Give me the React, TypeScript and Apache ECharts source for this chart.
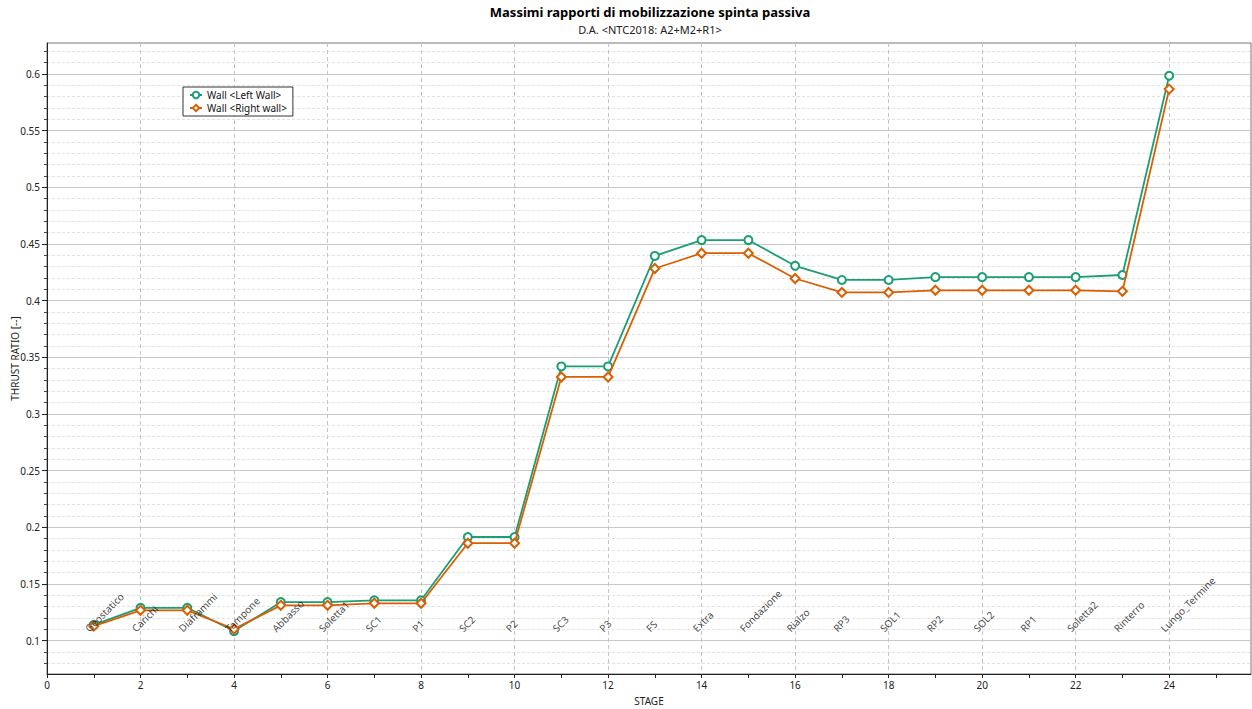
import React, { useEffect, useRef } from "react";
import * as echarts from "echarts";

const STAGES = [1, 2, 3, 4, 5, 6, 7, 8, 9, 10, 11, 12, 13, 14, 15, 16, 17, 18, 19, 20, 21, 22, 23, 24];
const STAGE_NAMES = [
  "Geostatico", "Carichi", "Diaframmi", "Tampone", "Abbasso", "Soletta1", "SC1", "P1",
  "SC2", "P2", "SC3", "P3", "FS", "Extra", "Fondazione", "Rialzo", "RP3", "SOL1",
  "RP2", "SOL2", "RP1", "Soletta2", "Rinterro", "Lungo_Termine",
];
const LEFT_WALL = [
  0.114, 0.129, 0.129, 0.1085, 0.134, 0.134, 0.1356, 0.1356, 0.1915, 0.1915, 0.342, 0.342,
  0.4395, 0.4535, 0.4535, 0.4308, 0.4183, 0.4183, 0.4208, 0.4208, 0.4208, 0.4208, 0.4227, 0.5985,
];
const RIGHT_WALL = [
  0.1128, 0.1268, 0.1268, 0.1103, 0.1312, 0.1312, 0.133, 0.133, 0.186, 0.186, 0.3327, 0.3327,
  0.4284, 0.4419, 0.4419, 0.4196, 0.4073, 0.4073, 0.4092, 0.4092, 0.4092, 0.4092, 0.4083, 0.5867,
];
const Y_LABELS = [0.1, 0.15, 0.2, 0.25, 0.3, 0.35, 0.4, 0.45, 0.5, 0.55, 0.6];
const Y_MINOR = [
  0.08, 0.09, 0.11, 0.12, 0.13, 0.14, 0.16, 0.17, 0.18, 0.19, 0.21, 0.22, 0.23, 0.24,
  0.26, 0.27, 0.28, 0.29, 0.31, 0.32, 0.33, 0.34, 0.36, 0.37, 0.38, 0.39, 0.41, 0.42,
  0.43, 0.44, 0.46, 0.47, 0.48, 0.49, 0.51, 0.52, 0.53, 0.54, 0.56, 0.57, 0.58, 0.59,
  0.61, 0.62,
];
const X_LABELS = [0, 2, 4, 6, 8, 10, 12, 14, 16, 18, 20, 22, 24];
const X_TICKS = [0, 1, 2, 3, 4, 5, 6, 7, 8, 9, 10, 11, 12, 13, 14, 15, 16, 17, 18, 19, 20, 21, 22, 23, 24, 25];
const X_GRID = [2, 4, 6, 8, 10, 12, 14, 16, 18, 20, 22, 24];
const Y_MIN = 0.0706;
const Y_MAX = 0.6274;
const X_MIN = 0;
const X_MAX = 25.75;
const LABEL_Y = 0.1095;

const GREEN = "#1B9E77";
const ORANGE = "#D95F02";
const FONT = "'Noto Sans', 'DejaVu Sans', sans-serif";

export default function App() {
  const ref = useRef<HTMLDivElement>(null);
  useEffect(() => {
    document.body.style.margin = "0";
    const chart = echarts.init(ref.current!, null, { renderer: "svg" });
    chart.setOption({
      animation: false,
      backgroundColor: "#ffffff",
      textStyle: { fontFamily: FONT },
      graphic: [
        {
          type: "text",
          x: 650,
          y: 5,
          style: {
            text: "Massimi rapporti di mobilizzazione spinta passiva",
            font: `bold 13px ${FONT}`,
            fill: "#000",
            textAlign: "center",
          },
        },
        {
          type: "text",
          x: 650,
          y: 24,
          style: {
            text: "D.A. <NTC2018: A2+M2+R1>",
            font: `11px ${FONT}`,
            fill: "#222",
            textAlign: "center",
          },
        },
      ],
      legend: {
        left: 183,
        top: 87,
        orient: "vertical",
        backgroundColor: "#fff",
        borderColor: "#333",
        borderWidth: 1,
        borderRadius: 0,
        padding: [3, 6, 3, 6],
        itemGap: 3,
        itemWidth: 12,
        itemHeight: 8,
        textStyle: { fontSize: 10, color: "#111", fontFamily: FONT },
        data: ["Wall <Left Wall>", "Wall <Right wall>"],
      },
      grid: {
        left: 47,
        right: 1,
        top: 43,
        bottom: 35,
        containLabel: false,
        outerBoundsMode: "none",
        show: true,
        borderColor: "#777",
        borderWidth: 1,
      },
      xAxis: [
        {
          type: "value",
          min: X_MIN,
          max: X_MAX,
          name: "STAGE",
          nameLocation: "middle",
          nameGap: 22,
          nameMoveOverlap: false,
          nameTextStyle: { fontSize: 10, color: "#222" },
          axisLine: { show: true, lineStyle: { color: "#222", width: 1 } },
          axisTick: { show: true, length: 4, customValues: X_TICKS, lineStyle: { color: "#222" } },
          axisLabel: { customValues: X_LABELS, fontSize: 10, color: "#222", margin: 6 },
          splitLine: { show: false },
        },
        {
          type: "value",
          min: X_MIN,
          max: X_MAX,
          show: true,
          position: "bottom",
          axisLine: { show: false },
          axisTick: { show: false, customValues: X_GRID },
          axisLabel: { show: false },
          splitLine: { show: true, lineStyle: { color: "#c4c4c4", type: [4, 3], width: 1 } },
        },
      ],
      yAxis: [
        {
          type: "value",
          min: Y_MIN,
          max: Y_MAX,
          name: "THRUST RATIO [--]",
          nameLocation: "middle",
          nameGap: 27,
          nameMoveOverlap: false,
          nameTextStyle: { fontSize: 10, color: "#222" },
          axisLine: { show: true, lineStyle: { color: "#222", width: 1 } },
          axisTick: { show: true, length: 5, customValues: Y_LABELS, lineStyle: { color: "#222" } },
          axisLabel: {
            customValues: Y_LABELS,
            fontSize: 10,
            color: "#222",
            margin: 7,
            formatter: (v: number) => String(+v.toFixed(2)),
          },
          splitLine: { show: true, lineStyle: { color: "#c8c8c8", width: 1 } },
          z: 3,
        },
        {
          type: "value",
          min: Y_MIN,
          max: Y_MAX,
          position: "left",
          axisLine: { show: false },
          axisTick: { show: true, length: 3, customValues: Y_MINOR, lineStyle: { color: "#444" } },
          axisLabel: { show: false },
          splitLine: { show: true, lineStyle: { color: "#e2e2e2", type: [3, 2], width: 1 } },
        },
      ],
      series: [
        {
          name: "Wall <Left Wall>",
          type: "line",
          data: STAGES.map((s, i) => [s, LEFT_WALL[i]]),
          symbol: "emptyCircle",
          symbolSize: 8,
          color: GREEN,
          lineStyle: { width: 1.8, color: GREEN },
          itemStyle: { color: GREEN, borderWidth: 1.6 },
          z: 4,
        },
        {
          name: "Wall <Right wall>",
          type: "line",
          data: STAGES.map((s, i) => [s, RIGHT_WALL[i]]),
          symbol: "emptyDiamond",
          symbolSize: 9,
          color: ORANGE,
          lineStyle: { width: 1.8, color: ORANGE },
          itemStyle: { color: ORANGE, borderWidth: 1.6 },
          z: 5,
        },
        {
          name: "stages",
          type: "scatter",
          silent: true,
          symbolSize: 0,
          data: STAGES.map((s, i) => ({ value: [s, LABEL_Y], name: STAGE_NAMES[i] })),
          label: {
            show: true,
            position: "inside",
            formatter: "{b}",
            rotate: 45,
            align: "left",
            verticalAlign: "bottom",
            offset: [-5, 0],
            fontSize: 10,
            color: "#111",
            textBorderWidth: 0,
            textBorderColor: "transparent",
          },
          z: 6,
        },
      ],
    });
    return () => chart.dispose();
  }, []);
  return <div ref={ref} style={{ width: 1252, height: 709 }} />;
}
